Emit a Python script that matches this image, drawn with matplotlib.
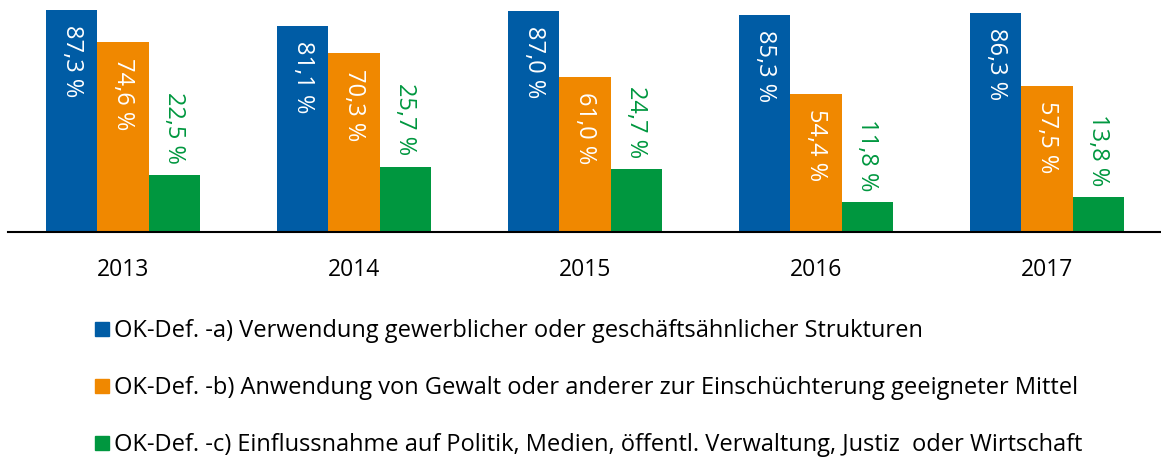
import matplotlib
matplotlib.use("Agg")
import matplotlib.pyplot as plt
from matplotlib.lines import Line2D
import numpy as np

years = ["2013", "2014", "2015", "2016", "2017"]
series_a = [87.3, 81.1, 87.0, 85.3, 86.3]
series_b = [74.6, 70.3, 61.0, 54.4, 57.5]
series_c = [22.5, 25.7, 24.7, 11.8, 13.8]
labels = [
    "OK-Def. -a) Verwendung gewerblicher oder geschäftsähnlicher Strukturen",
    "OK-Def. -b) Anwendung von Gewalt oder anderer zur Einschüchterung geeigneter Mittel",
    "OK-Def. -c) Einflussnahme auf Politik, Medien, öffentl. Verwaltung, Justiz  oder Wirtschaft",
]
colors = ["#005CA5", "#F08800", "#00973F"]

plt.rcParams['font.family'] = ['Open Sans', 'DejaVu Sans']

W, H = 1161, 461
fig = plt.figure(figsize=(W / 100, H / 100), dpi=100)
ax = fig.add_axes([7.5 / W, (H - 232) / H, 1155 / W, 232 / H])

x = np.arange(len(years))
bw = 0.2225
series = [series_a, series_b, series_c]
for i, (vals, col) in enumerate(zip(series, colors)):
    xs = x + (i - 1) * bw
    ax.bar(xs, vals, width=bw, color=col, edgecolor='none')
    for xi, v in zip(xs, vals):
        txt = f"{v:.1f}".replace(".", ",") + " %"
        if i < 2:
            ax.annotate(txt, (xi, v), xytext=(0, -11), textcoords='offset points',
                        rotation=-90, ha='center', va='top', color='white', fontsize=17)
        else:
            ax.annotate(txt, (xi, v), xytext=(0, 8), textcoords='offset points',
                        rotation=-90, ha='center', va='bottom', color=col, fontsize=17)

ax.set_xlim(-0.5, 4.5)
ax.set_ylim(0, 232 / 2.543)
for s in ['top', 'right', 'left']:
    ax.spines[s].set_visible(False)
ax.spines['bottom'].set_linewidth(1.5)
ax.spines['bottom'].set_color('black')
ax.set_yticks([])
ax.set_xticks(x)
ax.set_xticklabels(years, fontsize=16.5)
ax.tick_params(axis='x', length=0, pad=19)

handles = [Line2D([0], [0], marker='s', linestyle='none', markersize=10.5,
                  markerfacecolor=c, markeredgecolor=c) for c in colors]
leg = fig.legend(handles, labels, loc='upper left', bbox_to_anchor=(94 / W, 1 - 319 / H),
                 frameon=False, fontsize=17, handlelength=0.65, handletextpad=0.2,
                 labelspacing=1.4, borderaxespad=0, borderpad=0)

fig.savefig("out.png", dpi=100)
